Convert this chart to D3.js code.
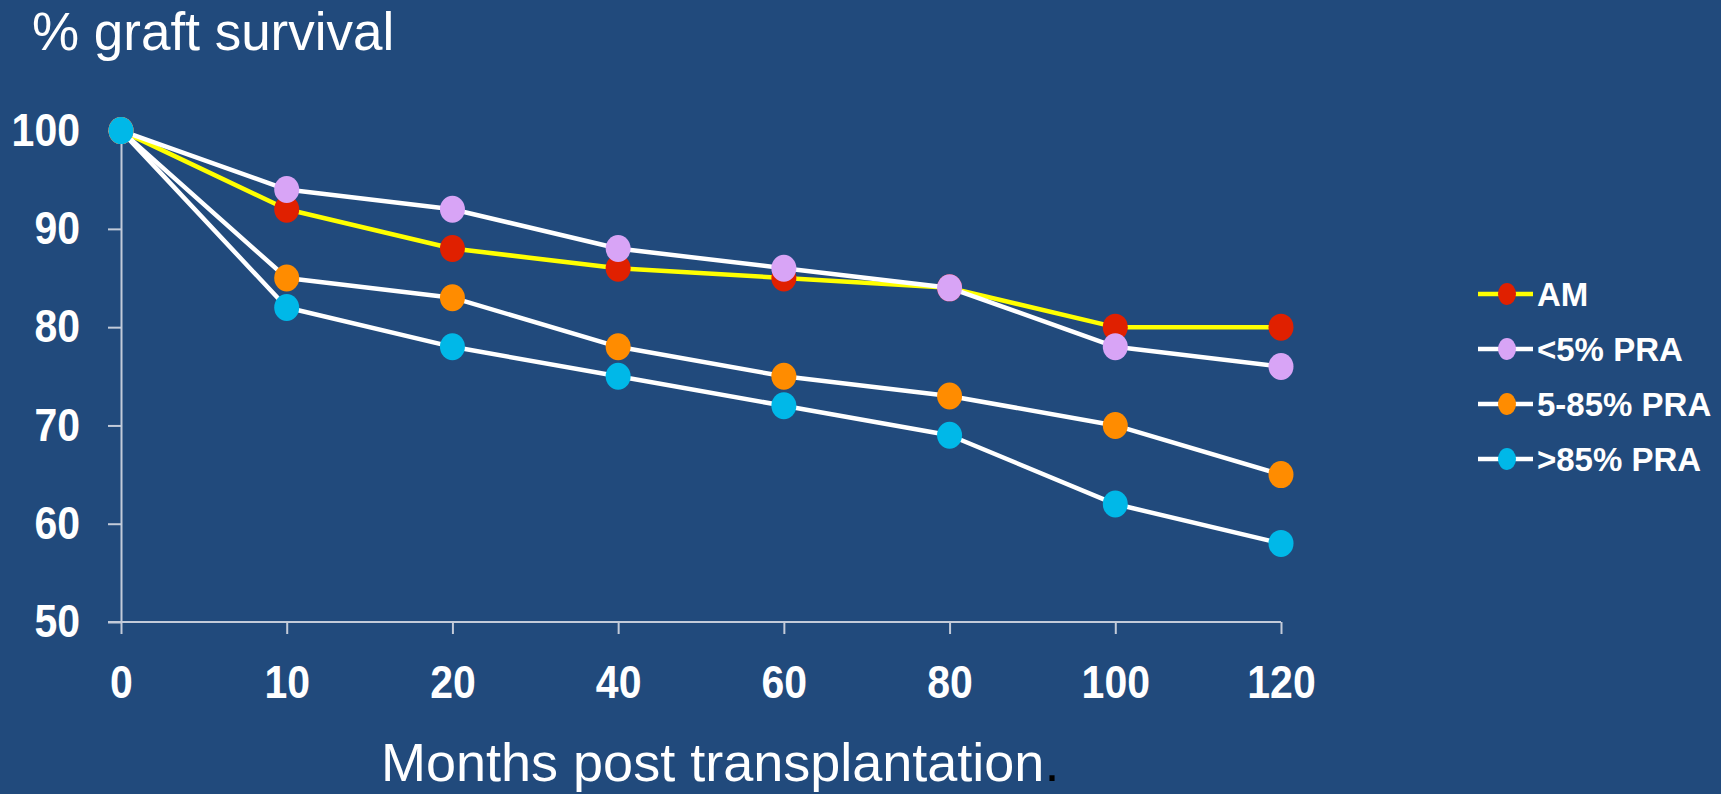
<!DOCTYPE html>
<html>
<head>
<meta charset="utf-8">
<script src="https://cdn.jsdelivr.net/npm/d3@7"></script>
<style>
  html, body { margin: 0; padding: 0; background: #214a7c; }
  svg { display: block; }
  text { font-family: "Liberation Sans", Arial, sans-serif; fill: #ffffff; }
</style>
</head>
<body>
<svg id="chart" width="1721" height="794"></svg>
<script>
// ---- Data ----
const months = ["0", "10", "20", "40", "60", "80", "100", "120"];
const yTicks = [50, 60, 70, 80, 90, 100];
const seriesNames = ["AM", "<5% PRA", "5-85% PRA", ">85% PRA"];
const amValues      = [100, 92, 88, 86, 85, 84, 80, 80];
const lowPraValues  = [100, 94, 92, 88, 86, 84, 78, 76];
const midPraValues  = [100, 85, 83, 78, 75, 73, 70, 65];
const highPraValues = [100, 82, 78, 75, 72, 69, 62, 58];
const lineColors   = ["#ffff00", "#ffffff", "#ffffff", "#ffffff"];
const markerColors = ["#e02000", "#d8a4f6", "#ff8c00", "#00b8e8"];
const titleText = "% graft survival";
const xTitleText = "Months post transplantation";

const series = [amValues, lowPraValues, midPraValues, highPraValues].map((vals, i) => ({
  name: seriesNames[i], line: lineColors[i], marker: markerColors[i],
  points: vals.map((v, j) => ({ m: months[j], v }))
}));

// ---- Layout ----
const svg = d3.select("#chart");
svg.append("rect").attr("width", 1721).attr("height", 794).attr("fill", "#214a7c");

const x = d3.scalePoint().domain(months).range([121, 1281]);
const y = d3.scaleLinear().domain([50, 100]).range([622, 130.6]);
const axisColor = "#c3cbd9";
const stretch = 1.12;

// Y axis
const yAxis = svg.append("g").attr("transform", `translate(${x("0")},0)`)
  .call(d3.axisLeft(y).tickValues(yTicks).tickSize(13).tickSizeOuter(0).tickPadding(28));
yAxis.select(".domain").attr("stroke", axisColor).attr("stroke-width", 2);
yAxis.selectAll(".tick line").attr("stroke", axisColor).attr("stroke-width", 2);
yAxis.selectAll(".tick text")
  .attr("fill", "#ffffff").attr("font-size", 41).attr("font-weight", "bold")
  .attr("font-family", "'Liberation Sans', Arial, sans-serif")
  .attr("dy", "0.32em")
  .attr("transform", `scale(1,${stretch})`);

// X axis
const xAxis = svg.append("g").attr("transform", `translate(0,${y(50)})`)
  .call(d3.axisBottom(x).tickSize(12).tickSizeOuter(0).tickPadding(34));
xAxis.select(".domain").attr("stroke", axisColor).attr("stroke-width", 2)
  .attr("d", `M${x("0") - 13},0H${x("120")}`);
xAxis.selectAll(".tick line").attr("stroke", axisColor).attr("stroke-width", 2);
xAxis.selectAll(".tick text")
  .attr("fill", "#ffffff").attr("font-size", 41).attr("font-weight", "bold")
  .attr("font-family", "'Liberation Sans', Arial, sans-serif")
  .attr("y", 38.5)
  .attr("transform", `scale(1,${stretch})`);

// Series
const line = d3.line().x(d => x(d.m)).y(d => y(d.v));
series.forEach(s => {
  const g = svg.append("g");
  g.append("path").datum(s.points).attr("d", line)
    .attr("fill", "none").attr("stroke", s.line).attr("stroke-width", 4.5)
    .attr("stroke-linejoin", "round");
  g.selectAll("ellipse").data(s.points).join("ellipse")
    .attr("cx", d => x(d.m)).attr("cy", d => y(d.v))
    .attr("rx", 12.5).attr("ry", 13.5)
    .attr("fill", s.marker);
});

// Titles
svg.append("text").attr("x", 32).attr("y", 50)
  .attr("font-size", 53).text(titleText);
const xt = svg.append("text").attr("x", 381).attr("y", 781).attr("font-size", 54);
xt.append("tspan").text(xTitleText);
xt.append("tspan").attr("fill", "#000000").text(".");

// Legend
const legend = svg.append("g").attr("transform", "translate(1478,294)");
const items = legend.selectAll("g").data(series).join("g")
  .attr("transform", (d, i) => `translate(0,${i * 55})`);
items.append("line").attr("x1", 0).attr("x2", 55).attr("y1", 0).attr("y2", 0)
  .attr("stroke", d => d.line).attr("stroke-width", 4.5);
items.append("ellipse").attr("cx", 29).attr("cy", 0).attr("rx", 9).attr("ry", 11)
  .attr("fill", d => d.marker);
items.append("text").attr("x", 59).attr("y", 0).attr("dy", "0.36em")
  .attr("font-size", 33).attr("font-weight", "bold").text(d => d.name);
</script>
</body>
</html>
